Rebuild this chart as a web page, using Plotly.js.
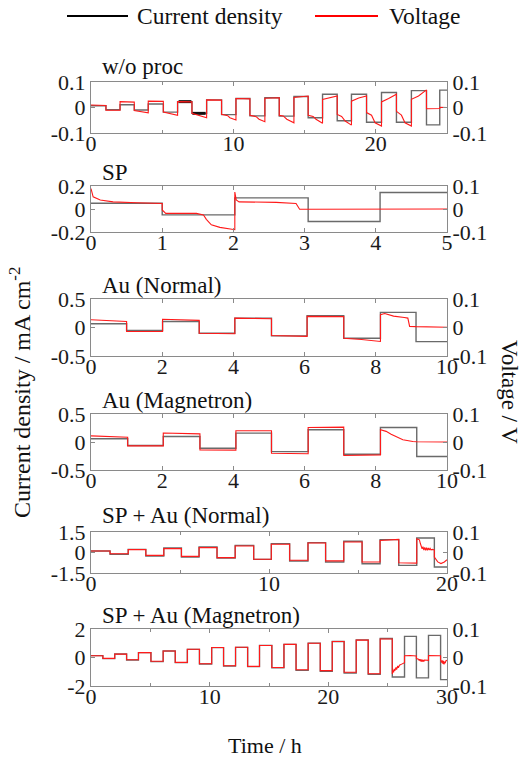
<!DOCTYPE html>
<html><head><meta charset="utf-8">
<script src="https://cdn.plot.ly/plotly-3.0.1.min.js"></script>
<style>html,body{margin:0;padding:0;background:#fff}#chart{width:528px;height:761px}</style>
</head><body><div id="chart"></div>
<script>
// ---------------- DATA ----------------
const panelTitles = ['w/o proc', 'SP', 'Au (Normal)', 'Au (Magnetron)', 'SP + Au (Normal)', 'SP + Au (Magnetron)'];
const timeMax = [25, 5, 10, 10, 20, 30];
const cdLimit = [0.1, 0.2, 0.5, 0.5, 1.5, 2];
const cdTickText = [['-0.1','0','0.1'], ['-0.2','0','0.2'], ['-0.5','0','0.5'], ['-0.5','0','0.5'], ['-1.5','0','1.5'], ['-2','0','2']];
const timeTicks = [[0,10,20], [0,1,2,3,4,5], [0,2,4,6,8,10], [0,2,4,6,8,10], [0,10,20], [0,10,20,30]];
const timeMinorTicks = [[5,15,25], [], [], [], [5,15], [5,15,25]];
const voltTicks = [-0.1, 0, 0.1];
const voltTickText = ['-0.1', '0', '0.1'];

// current density steps: start times (+ end), values
const cd1_t = [0,1.05,2.04,3.04,4.02,5.08,6.08,7.09,8.12,9.17,10.18,11.16,12.21,13.22,14.25,15.25,16.26,17.29,18.29,19.35,20.4,21.45,22.5,23.56,24.49,25];
const cd1_v = [0.007,-0.009,0.011,-0.010,0.014,-0.018,0.023,-0.023,0.030,-0.028,0.035,-0.033,0.038,-0.034,0.043,-0.040,0.052,-0.052,0.052,-0.058,0.059,-0.058,0.066,-0.068,0.068];
const cd1_dense = [[6.15,7.05,0.023],[7.12,8.05,-0.023]];
const cd2_t = [0,1.0,2.02,3.05,4.06,5];
const cd2_v = [0.05,-0.051,0.097,-0.109,0.143];
const cd3_t = [0,1.0,2.01,3.04,4.04,5.07,6.07,7.1,8.13,9.13,10];
const cd3_v = [0.065,-0.053,0.106,-0.10,0.165,-0.147,0.206,-0.188,0.265,-0.247];
const cd4_t = [0,1.03,2.03,3.06,4.07,5.07,6.1,7.1,8.13,9.15,10];
const cd4_v = [0.057,-0.063,0.099,-0.111,0.159,-0.171,0.219,-0.219,0.26,-0.26];
const cd5_t = [0,1.07,2.09,3.08,4.09,5.08,6.07,7.08,8.1,9.14,10.13,11.16,12.19,13.18,14.2,15.23,16.24,17.29,18.3,19.29,20];
const cd5_v = [0.11,-0.13,0.23,-0.26,0.33,-0.33,0.40,-0.40,0.52,-0.50,0.65,-0.62,0.72,-0.70,0.82,-0.82,0.94,-0.94,1.06,-1.06];
const cd6_t = [0,1.0,2.0,3.0,4.0,5.05,6.08,7.1,8.12,9.14,10.17,11.17,12.18,13.2,14.2,15.24,16.26,17.28,18.3,19.32,20.33,21.33,22.35,23.36,24.37,25.39,26.42,27.42,28.44,29.46,30];
const cd6_v = [0.13,-0.08,0.25,-0.18,0.34,-0.29,0.46,-0.36,0.57,-0.46,0.69,-0.60,0.71,-0.64,0.85,-0.72,0.92,-0.90,1.01,-0.96,1.12,-1.09,1.24,-1.18,1.33,-1.37,1.48,-1.43,1.55,-1.55];

// voltage traces: [time, voltage] pairs
const volt1 = [[0,0.010],[1.05,0.008],[1.05,-0.011],[2.04,-0.011],[2.04,0.023],[3.04,0.021],
 [3.04,-0.012],[3.5,-0.016],[4.02,-0.021],[4.02,0.025],[5.08,0.024],
 [5.08,-0.018],[5.6,-0.024],[6.08,-0.031],[6.08,0.023],[7.09,0.022],
 [7.09,-0.023],[7.6,-0.032],[8.12,-0.040],[8.12,0.030],[9.17,0.029],
 [9.17,-0.027],[9.6,-0.032],[9.75,-0.040],[10.18,-0.049],[10.18,0.035],[11.16,0.034],
 [11.16,-0.031],[11.6,-0.036],[11.8,-0.046],[12.21,-0.056],[12.21,0.036],[13.22,0.038],
 [13.22,-0.031],[13.5,-0.033],[13.75,-0.046],[14.25,-0.060],[14.25,0.039],[15.25,0.045],
 [15.25,-0.031],[15.6,-0.035],[15.8,-0.046],[16.26,-0.062],[16.26,0.032],[16.8,0.040],[17.29,0.045],
 [17.29,-0.027],[17.6,-0.035],[17.85,-0.053],[18.29,-0.069],[18.29,0.025],[18.8,0.037],[19.35,0.045],
 [19.35,-0.020],[19.7,-0.030],[19.95,-0.060],[20.4,-0.073],[20.4,0.022],[20.9,0.035],[21.45,0.052],
 [21.45,-0.015],[21.8,-0.030],[22.05,-0.060],[22.5,-0.073],[22.5,0.032],[23.0,0.045],[23.56,0.069],
 [23.56,-0.005],[24.49,-0.004],[24.49,0.001],[25,0.0]];
const volt2 = [[0,0.089],[0.03,0.053],[0.13,0.039],[0.31,0.031],[0.64,0.027],[1.0,0.024],
 [1.0,-0.004],[1.05,-0.019],[1.48,-0.019],[1.58,-0.026],[1.62,-0.045],[1.69,-0.069],[1.81,-0.080],[2.02,-0.090],
 [2.02,0.074],[2.04,0.039],[2.08,0.031],[2.6,0.029],[2.88,0.024],[2.93,-0.001],[3.05,-0.001],[4.06,-0.002],[4.07,0.0],[5,0.0]];
const volt3 = [[0,0.027],[1.0,0.021],[1.0,-0.014],[2.01,-0.014],[2.01,0.029],[3.04,0.025],
 [3.04,-0.020],[4.04,-0.022],[4.04,0.033],[5.07,0.031],[5.07,-0.028],[6.07,-0.031],
 [6.07,0.039],[7.1,0.038],[7.1,-0.038],[7.6,-0.042],[8.13,-0.049],
 [8.13,0.045],[8.25,0.049],[8.5,0.040],[8.8,0.035],[8.9,0.033],[8.95,0.004],[9.13,0.003],[10,0.001]];
const volt4 = [[0,0.022],[1.03,0.017],[1.03,-0.014],[2.03,-0.014],[2.03,0.032],[3.06,0.029],
 [3.06,-0.028],[4.07,-0.029],[4.07,0.040],[5.07,0.040],[5.07,-0.040],[6.1,-0.042],
 [6.1,0.052],[7.1,0.053],[7.1,-0.048],[8.13,-0.046],
 [8.13,0.044],[8.29,0.038],[8.43,0.028],[8.57,0.020],[8.76,0.008],[9.04,0.002],[9.15,0.001],[10,0.0]];
const volt5 = [[0,0.007],[1.07,0.007],[1.07,-0.006],[2.09,-0.006],[2.09,0.014],[3.08,0.014],
 [3.08,-0.014],[4.09,-0.014],[4.09,0.019],[5.08,0.019],[5.08,-0.019],[6.07,-0.019],
 [6.07,0.024],[7.08,0.024],[7.08,-0.025],[8.1,-0.025],[8.1,0.032],[9.14,0.032],
 [9.14,-0.033],[10.13,-0.033],[10.13,0.040],[11.16,0.040],[11.16,-0.038],[12.19,-0.038],
 [12.19,0.046],[13.18,0.046],[13.18,-0.041],[14.2,-0.041],[14.2,0.051],[15.23,0.051],
 [15.23,-0.046],[16.24,-0.046],[16.24,0.059],[17.29,0.064],[17.29,-0.050],[18.3,-0.052],
 [18.3,0.067],[18.45,0.062],[18.5,0.045],[18.55,0.030],[18.6,0.018],[18.65,0.028],[18.7,0.012],
 [18.75,0.025],[18.8,0.010],[18.85,0.024],[18.9,0.011],[18.95,0.022],[19.0,0.012],[19.05,0.020],
 [19.1,0.013],[19.2,0.015],[19.29,0.012],
 [19.29,-0.022],[19.48,-0.046],[19.66,-0.054],[19.85,-0.046],[20,-0.035]];
const volt6 = [[0,0.0064],[1.0,0.0064],[1.0,-0.003],[2.0,-0.003],[2.0,0.012],[3.0,0.012],
 [3.0,-0.008],[4.0,-0.008],[4.0,0.017],[5.05,0.017],[5.05,-0.013],[6.08,-0.013],
 [6.08,0.023],[7.1,0.023],[7.1,-0.017],[8.12,-0.017],[8.12,0.029],[9.14,0.029],
 [9.14,-0.022],[10.17,-0.022],[10.17,0.035],[11.17,0.035],[11.17,-0.029],[12.18,-0.029],
 [12.18,0.036],[13.2,0.036],[13.2,-0.031],[14.2,-0.031],[14.2,0.042],[15.24,0.042],
 [15.24,-0.035],[16.26,-0.035],[16.26,0.046],[17.28,0.046],[17.28,-0.043],[18.3,-0.043],
 [18.3,0.050],[19.32,0.050],[19.32,-0.046],[20.33,-0.046],[20.33,0.056],[21.33,0.056],
 [21.33,-0.052],[22.35,-0.052],[22.35,0.061],[23.36,0.061],[23.36,-0.057],[24.37,-0.057],
 [24.37,0.065],[25.39,0.065],
 [25.39,-0.058],[25.45,-0.045],[25.5,-0.052],[25.55,-0.040],[25.6,-0.047],[25.7,-0.035],[25.75,-0.042],
 [25.85,-0.030],[25.9,-0.036],[26.0,-0.027],[26.1,-0.025],[26.2,-0.022],[26.42,-0.018],
 [26.42,0.006],[26.9,0.007],[27.42,0.005],
 [27.42,-0.004],[27.6,-0.006],[27.65,-0.011],[27.7,-0.006],[27.75,-0.013],[27.8,-0.007],[27.85,-0.014],
 [27.9,-0.008],[27.95,-0.014],[28.0,-0.009],[28.05,-0.014],[28.1,-0.009],[28.44,-0.010],
 [28.44,0.007],[29.0,0.007],[29.46,0.006],
 [29.46,-0.008],[29.55,-0.018],[29.6,-0.010],[29.65,-0.022],[29.7,-0.012],[29.75,-0.024],[29.8,-0.014],
 [29.85,-0.020],[29.9,-0.012],[30,-0.010]];

const cdT = [cd1_t, cd2_t, cd3_t, cd4_t, cd5_t, cd6_t];
const cdV = [cd1_v, cd2_v, cd3_v, cd4_v, cd5_v, cd6_v];
const volts = [volt1, volt2, volt3, volt4, volt5, volt6];

// ---------------- LAYOUT ----------------
const W = 528, H = 761, ML = 91, MR = 81;
const panelTop = [82, 186, 299, 414, 532, 629];
const panelBottom = [133, 232, 356, 470, 573, 686];
const titleY = [66, 172, 285, 400, 515, 615];
const px2x = px => (px - ML) / (W - ML - MR);
const py2y = py => (H - py) / H;
const FONT = 'Liberation Serif';
const FRAME = '#8a8a8a';
const CDCOL = '#6a6a6a';
const VCOL = '#ff1a1a';
const tickFont = {family: FONT, size: 22, color: '#1a1a1a'};

const traces = [];
const layout = {
  width: W, height: H, margin: {l: ML, r: MR, t: 0, b: 0},
  font: {family: FONT},
  paper_bgcolor: '#fff', plot_bgcolor: '#fff', showlegend: false,
  annotations: [], shapes: []
};

for (let i = 0; i < 6; i++) {
  const xid = i === 0 ? 'x' : 'x' + (i + 1);
  const ylid = 'y' + (2 * i + 1 === 1 ? '' : 2 * i + 1);
  const yrid = 'y' + (2 * i + 2);
  const lim = cdLimit[i];
  const vals = cdV[i];
  traces.push({
    x: cdT[i], y: vals.concat([vals[vals.length - 1]]),
    xaxis: xid, yaxis: ylid, type: 'scatter', mode: 'lines',
    line: {shape: 'hv', color: CDCOL, width: 1.4}, hoverinfo: 'skip'
  });
  traces.push({
    x: volts[i].map(p => p[0]), y: volts[i].map(p => p[1]),
    xaxis: xid, yaxis: yrid, type: 'scatter', mode: 'lines',
    line: {color: VCOL, width: 1.1}, hoverinfo: 'skip'
  });
  const dom = [py2y(panelBottom[i]), py2y(panelTop[i])];
  const xk = 'xaxis' + (i === 0 ? '' : i + 1);
  const ylk = 'yaxis' + (2 * i + 1 === 1 ? '' : 2 * i + 1);
  const yrk = 'yaxis' + (2 * i + 2);
  layout[xk] = {
    domain: [0, 1], anchor: ylid, range: [0, timeMax[i]],
    tickvals: timeTicks[i], ticks: 'inside', ticklen: 4, tickcolor: FRAME,
    showline: true, linecolor: FRAME, linewidth: 1, mirror: 'ticks',
    showgrid: false, zeroline: false, tickfont: tickFont, ticklabelstandoff: -9,
    minor: {tickvals: timeMinorTicks[i], ticks: 'inside', ticklen: 3, tickcolor: FRAME}
  };
  layout[ylk] = {
    domain: dom, anchor: xid, range: [-lim, lim],
    tickvals: [-lim, 0, lim], ticktext: cdTickText[i],
    ticks: 'inside', ticklen: 4, tickcolor: FRAME,
    showline: true, linecolor: FRAME, linewidth: 1,
    showgrid: false, zeroline: false, tickfont: tickFont
  };
  layout[yrk] = {
    overlaying: ylid, side: 'right', anchor: xid, range: [-0.1, 0.1],
    tickvals: voltTicks, ticktext: voltTickText,
    ticks: 'inside', ticklen: 4, tickcolor: FRAME,
    showline: true, linecolor: FRAME, linewidth: 1,
    showgrid: false, zeroline: false, tickfont: tickFont
  };
  layout.annotations.push({
    text: panelTitles[i], xref: 'paper', yref: 'paper',
    x: px2x(100), y: py2y(titleY[i]), xanchor: 'left', yanchor: 'middle',
    showarrow: false, font: {family: FONT, size: 23, color: '#111'}
  });
}

// dense (noisy) part of the first current trace
cd1_dense.forEach(s => {
  traces.push({x: [s[0], s[1]], y: [s[2], s[2]], xaxis: 'x', yaxis: 'y', mode: 'lines',
    line: {color: '#111', width: 3}, hoverinfo: 'skip'});
});

// legend (drawn by hand)
layout.shapes.push({type: 'line', xref: 'paper', yref: 'paper', x0: px2x(67), x1: px2x(128), y0: py2y(16), y1: py2y(16), line: {color: '#000', width: 1.8}});
layout.shapes.push({type: 'line', xref: 'paper', yref: 'paper', x0: px2x(315), x1: px2x(378), y0: py2y(16), y1: py2y(16), line: {color: '#ff0000', width: 1.8}});
layout.annotations.push({text: 'Current density', xref: 'paper', yref: 'paper', x: px2x(135), y: py2y(16), xanchor: 'left', yanchor: 'middle', showarrow: false, font: {family: FONT, size: 23.5, color: '#111'}});
layout.annotations.push({text: 'Voltage', xref: 'paper', yref: 'paper', x: px2x(387), y: py2y(16), xanchor: 'left', yanchor: 'middle', showarrow: false, font: {family: FONT, size: 23.5, color: '#111'}});

// axis titles
layout.annotations.push({text: 'Current density / mA cm<sup>-2</sup>', xref: 'paper', yref: 'paper', x: px2x(20), y: py2y(393), xanchor: 'center', yanchor: 'middle', textangle: -90, showarrow: false, font: {family: FONT, size: 24, color: '#111'}});
layout.annotations.push({text: 'Voltage / V', xref: 'paper', yref: 'paper', x: px2x(510), y: py2y(392), xanchor: 'center', yanchor: 'middle', textangle: 90, showarrow: false, font: {family: FONT, size: 23, color: '#111'}});
layout.annotations.push({text: 'Time / h', xref: 'paper', yref: 'paper', x: px2x(265), y: py2y(745), xanchor: 'center', yanchor: 'middle', showarrow: false, font: {family: FONT, size: 22, color: '#111'}});

Plotly.newPlot('chart', traces, layout, {staticPlot: true, displayModeBar: false});
</script></body></html>
